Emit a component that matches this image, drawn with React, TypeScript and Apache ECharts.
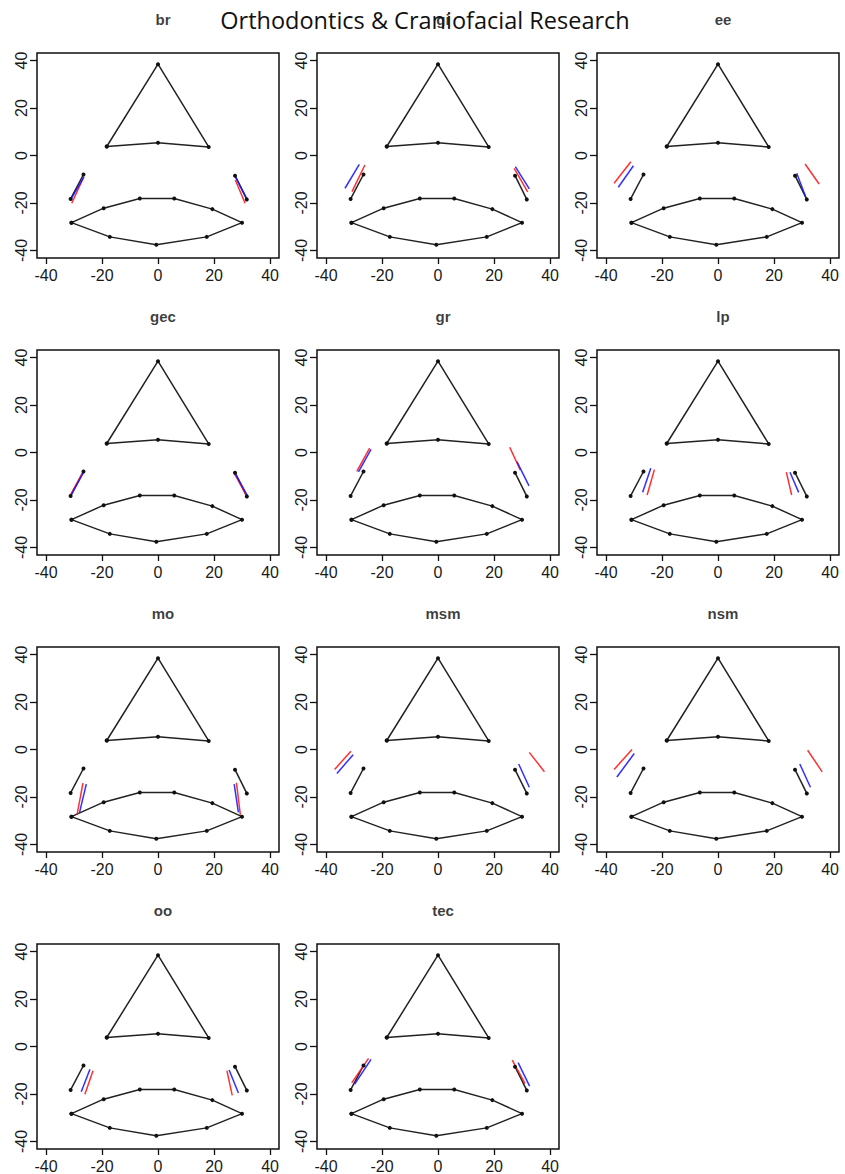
import React, { useEffect, useRef } from "react";
import * as echarts from "echarts";

const headerText = "Orthodontics & Craniofacial Research";
const panelNames = ["br", "gi", "ee", "gec", "gr", "lp", "mo", "msm", "nsm", "oo", "tec"];
const tickValues = [-40, -20, 0, 20, 40];
const axisMin = -43.2;
const axisMax = 43.2;

// mean shape (black)
const triangleX = [-18.3, 0, 18.1, 0, -18.3];
const triangleY = [3.8, 38.5, 3.6, 5.4, 3.8];
const lensX = [-30.9, -19.4, -6.5, 5.8, 19.4, 30.0, 17.4, -0.6, -17.2, -30.9];
const lensY = [-28.3, -22.2, -18.1, -18.1, -22.6, -28.3, -34.3, -37.6, -34.3, -28.3];
const blackLeft = [-26.6, -8.0, -31.2, -18.3];
const blackRight = [27.5, -8.5, 31.7, -18.5];

// per panel segments [x1, y1, x2, y2]
const redLeft = [
  [-26.7, -9.6, -30.8, -20.1],
  [-26.1, -4.0, -30.7, -15.2],
  [-31.1, -2.6, -37.1, -11.7],
  [-26.5, -7.6, -31.6, -18.6],
  [-24.4, 1.8, -29.0, -8.0],
  [-22.7, -7.2, -25.3, -17.9],
  [-26.8, -14.2, -28.9, -27.6],
  [-31.1, -0.7, -36.9, -8.4],
  [-30.7, 0.0, -37.1, -8.4],
  [-23.2, -10.2, -26.1, -20.1],
  [-24.8, -5.0, -30.8, -15.3],
];
const blueLeft = [
  [-26.4, -8.9, -31.2, -18.7],
  [-28.1, -3.7, -33.2, -13.8],
  [-30.2, -4.3, -35.6, -13.4],
  [-26.3, -7.8, -31.4, -18.8],
  [-23.9, 1.3, -28.4, -8.2],
  [-24.0, -6.6, -26.9, -16.8],
  [-25.6, -14.6, -28.0, -26.5],
  [-30.3, -2.2, -36.1, -10.1],
  [-29.9, -1.7, -36.1, -11.6],
  [-24.3, -9.6, -27.4, -19.1],
  [-23.9, -5.4, -29.8, -15.9],
];
const redRight = [
  [27.6, -10.3, 31.1, -20.1],
  [27.2, -5.4, 32.0, -15.3],
  [31.1, -3.6, 36.1, -12.0],
  [27.0, -8.3, 32.0, -19.0],
  [25.6, 2.2, 29.4, -7.4],
  [24.4, -8.3, 26.3, -17.9],
  [28.0, -14.0, 29.4, -27.5],
  [32.6, -1.2, 38.0, -9.4],
  [32.0, -0.3, 37.2, -9.4],
  [24.6, -10.2, 26.5, -20.6],
  [26.5, -5.7, 31.1, -15.6],
];
const blueRight = [
  [27.8, -9.3, 31.9, -18.7],
  [27.6, -4.7, 32.6, -14.1],
  [28.1, -7.5, 31.3, -17.4],
  [27.2, -8.1, 32.2, -18.8],
  [28.2, -3.9, 32.5, -14.1],
  [25.7, -8.3, 28.8, -16.8],
  [27.2, -14.6, 28.7, -26.5],
  [28.8, -6.1, 32.6, -15.9],
  [29.2, -6.1, 33.0, -15.9],
  [25.4, -9.9, 28.7, -19.6],
  [28.6, -6.8, 32.7, -16.7],
];

const colLeft = [37, 317, 597];
const rowTop = [53, 350, 647, 944];
const boxW = 242;
const boxH = 205;

const tickFont = "'Liberation Sans', Arial, Helvetica, sans-serif";

function pts(xs: number[], ys: number[]) {
  return xs.map((x, i) => [x, ys[i]]);
}
function seg(s: number[]) {
  return [
    [s[0], s[1]],
    [s[2], s[3]],
  ];
}

export default function App() {
  const ref = useRef<HTMLDivElement>(null);
  useEffect(() => {
    if (!ref.current) return;
    const chart = echarts.init(ref.current, undefined, { renderer: "svg" });
    const grids: any[] = [];
    const xAxes: any[] = [];
    const yAxes: any[] = [];
    const series: any[] = [];
    const titles: any[] = [];
    titles.push({
      text: headerText,
      left: 420,
      top: 3,
      textAlign: "center",
      textStyle: { fontSize: 23.5, fontWeight: "normal", fontFamily: "'Open Sans', 'Noto Sans', sans-serif", color: "#111" },
    });
    panelNames.forEach((name, i) => {
      const c = i % 3;
      const r = Math.floor(i / 3);
      grids.push({
        left: colLeft[c],
        top: rowTop[r],
        width: boxW,
        height: boxH,
        show: true,
        borderColor: "#111",
        borderWidth: 1.5,
        backgroundColor: "#fff",
      });
      const tickStyle = { color: "#111", width: 1.3 };
      xAxes.push({
        type: "value",
        min: axisMin,
        max: axisMax,
        gridIndex: i,
        position: "bottom",
        splitLine: { show: false },
        axisLine: { show: false, onZero: false },
        axisTick: { show: true, inside: false, length: 6, customValues: tickValues, lineStyle: tickStyle },
        axisLabel: {
          customValues: tickValues,
          margin: 9,
          fontSize: 16,
          fontFamily: tickFont,
          color: "#1a1a1a",
        },
      });
      yAxes.push({
        type: "value",
        min: axisMin,
        max: axisMax,
        gridIndex: i,
        position: "left",
        splitLine: { show: false },
        axisLine: { show: false, onZero: false },
        axisTick: { show: true, inside: false, length: 7, customValues: tickValues, lineStyle: tickStyle },
        axisLabel: {
          customValues: tickValues,
          rotate: 90,
          margin: 8,
          fontSize: 16,
          fontFamily: tickFont,
          color: "#1a1a1a",
        },
      });
      titles.push({
        text: name,
        left: colLeft[c] + boxW / 2,
        top: rowTop[r] - 46,
        textAlign: "center",
        textStyle: { fontSize: 15, fontWeight: "bold", fontFamily: tickFont, color: "#1a1a1a", opacity: 0.85 },
      });
      const blackLine = { color: "#222", width: 1.5 };
      const dot = { color: "#111" };
      const shapes = [pts(triangleX, triangleY), pts(lensX, lensY), seg(blackLeft), seg(blackRight)];
      shapes.forEach((d) => {
        series.push({
          type: "line",
          xAxisIndex: i,
          yAxisIndex: i,
          data: d,
          symbol: "circle",
          symbolSize: 4,
          showSymbol: true,
          lineStyle: blackLine,
          itemStyle: dot,
          silent: true,
        });
      });
      const colored: [number[], string][] = [
        [redLeft[i], "#ff1a1a"],
        [redRight[i], "#ff1a1a"],
        [blueLeft[i], "#1a1aff"],
        [blueRight[i], "#1a1aff"],
      ];
      colored.forEach(([s, col]) => {
        series.push({
          type: "line",
          xAxisIndex: i,
          yAxisIndex: i,
          data: seg(s),
          symbol: "none",
          lineStyle: { color: col, width: 1.5, opacity: 0.9 },
          silent: true,
        });
      });
    });
    chart.setOption({
      animation: false,
      backgroundColor: "#fff",
      title: titles,
      grid: grids,
      xAxis: xAxes,
      yAxis: yAxes,
      series,
    });
    return () => chart.dispose();
  }, []);
  return <div ref={ref} style={{ position: "absolute", left: 0, top: 0, width: 845, height: 1174 }} />;
}
